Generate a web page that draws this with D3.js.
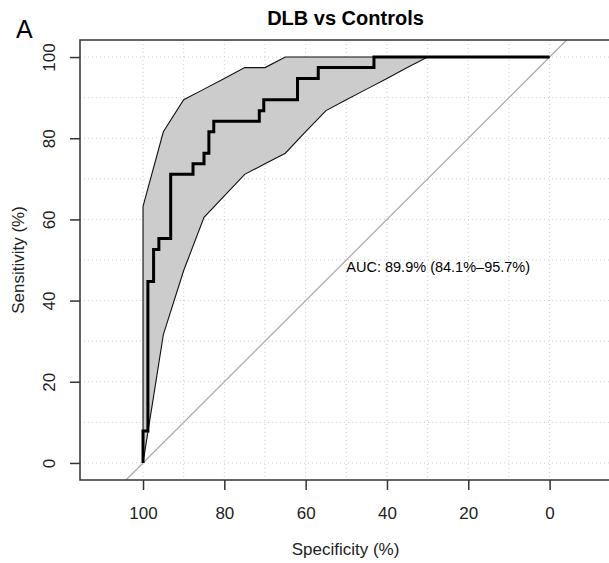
<!DOCTYPE html>
<html lang="en">
<head>
<meta charset="utf-8">
<title>DLB vs Controls</title>
<script src="https://d3js.org/d3.v7.min.js"></script>
<style>
  body { margin: 0; background: #fff; }
  #chart text { font-family: "Liberation Sans", Arial, sans-serif; }
</style>
</head>
<body>
<div id="chart"></div>
<script>
// empirical ROC curve, specificity / sensitivity in %
var rocSpec = [100, 100, 98.8, 98.8, 97.4, 97.4, 96.1, 96.1, 93.2, 93.2, 87.7, 87.7, 85.0, 85.0,
               83.8, 83.8, 82.6, 82.6, 71.4, 71.4, 70.3, 70.3, 62.0, 62.0, 56.9, 56.9, 43.2, 43.2, 0];
var rocSens = [0, 7.9, 7.9, 44.7, 44.7, 52.6, 52.6, 55.3, 55.3, 71.1, 71.1, 73.7, 73.7, 76.3,
               76.3, 81.6, 81.6, 84.2, 84.2, 86.8, 86.8, 89.5, 89.5, 94.7, 94.7, 97.4, 97.4, 100, 100];

// confidence band of the sensitivity at fixed specificities
var ciSpec  = [100, 95, 90, 85, 80, 75, 70, 65, 60, 55, 50, 45, 40, 35, 30, 25, 20, 15, 10, 5, 0];
var ciLower = [0, 31.6, 47.4, 60.5, 65.8, 71.1, 73.7, 76.3, 81.6, 86.8, 89.5, 92.1, 94.7, 97.4,
               100, 100, 100, 100, 100, 100, 100];
var ciUpper = [63.2, 81.6, 89.5, 92.1, 94.7, 97.4, 97.4, 100, 100, 100, 100, 100, 100, 100,
               100, 100, 100, 100, 100, 100, 100];

var xTicks = [100, 80, 60, 40, 20, 0];
var yTicks = [0, 20, 40, 60, 80, 100];
var gridLines = [0, 10, 20, 30, 40, 50, 60, 70, 80, 90, 100];
var aucText = "AUC: 89.9% (84.1%\u201395.7%)";

var W = 609, H = 563;
var box = {left: 80, top: 40, width: 531, height: 440};

var svg = d3.select("#chart").append("svg")
    .attr("width", W).attr("height", H);

// scales (x reversed like pROC, square aspect)
var x = d3.scaleLinear().domain([115.5, -15.1]).range([box.left, box.left + box.width]);
var y = d3.scaleLinear().domain([-4.2, 104.2]).range([box.top + box.height, box.top]);

var plot = svg.append("g");

// grid
plot.selectAll(".gv").data(gridLines).enter().append("line")
    .attr("x1", d => x(d)).attr("x2", d => x(d))
    .attr("y1", box.top).attr("y2", box.top + box.height)
    .attr("stroke", "#cfcfcf").attr("stroke-dasharray", "1,3");
plot.selectAll(".gh").data(gridLines).enter().append("line")
    .attr("x1", box.left).attr("x2", box.left + box.width)
    .attr("y1", d => y(d)).attr("y2", d => y(d))
    .attr("stroke", "#cfcfcf").attr("stroke-dasharray", "1,3");

// chance diagonal
plot.append("line")
    .attr("x1", x(104.2)).attr("y1", y(-4.2))
    .attr("x2", x(-4.2)).attr("y2", y(104.2))
    .attr("stroke", "#a9a9a9").attr("stroke-width", 1.2);

// CI band
var band = ciSpec.map((s, i) => ({s: s, lo: ciLower[i], hi: ciUpper[i]}));
plot.append("path")
    .datum(band)
    .attr("d", d3.area().x(d => x(d.s)).y0(d => y(d.lo)).y1(d => y(d.hi)))
    .attr("fill", "#cccccc").attr("stroke", "#111").attr("stroke-width", 1.1);

// ROC curve
var roc = rocSpec.map((s, i) => [s, rocSens[i]]);
plot.append("path")
    .datum(roc)
    .attr("d", d3.line().x(d => x(d[0])).y(d => y(d[1])))
    .attr("fill", "none").attr("stroke", "#000").attr("stroke-width", 3);

plot.append("text")
    .attr("x", x(50)).attr("y", y(50)).attr("dy", "0.8em")
    .attr("font-size", "14.5px").attr("fill", "#000")
    .text(aucText);

// box
svg.append("rect")
    .attr("x", box.left).attr("y", box.top)
    .attr("width", box.width).attr("height", box.height)
    .attr("fill", "none").attr("stroke", "#333").attr("stroke-width", 1.5);

// axes
var xAxis = svg.append("g")
    .attr("transform", "translate(0," + (box.top + box.height) + ")")
    .call(d3.axisBottom(x).tickValues(xTicks).tickSize(10).tickPadding(17));
var yAxis = svg.append("g")
    .attr("transform", "translate(" + box.left + ",0)")
    .call(d3.axisLeft(y).tickValues(yTicks).tickSize(10));
[xAxis, yAxis].forEach(function(a) {
  a.select(".domain").remove();
  a.selectAll("line").attr("stroke", "#333").attr("stroke-width", 1.5);
  a.selectAll("text").attr("font-size", "17px").attr("fill", "#222");
});
yAxis.selectAll("text")
    .attr("x", 0).attr("dy", 0)
    .attr("text-anchor", "middle")
    .attr("transform", "translate(-25,0) rotate(-90)");

// titles
svg.append("text")
    .attr("x", box.left + box.width / 2).attr("y", 25)
    .attr("text-anchor", "middle").attr("font-size", "20px").attr("font-weight", "bold")
    .text("DLB vs Controls");
svg.append("text")
    .attr("x", box.left + box.width / 2).attr("y", 555)
    .attr("text-anchor", "middle").attr("font-size", "17px").attr("fill", "#222")
    .text("Specificity (%)");
svg.append("text")
    .attr("transform", "translate(24," + (box.top + box.height / 2) + ") rotate(-90)")
    .attr("text-anchor", "middle").attr("font-size", "17px").attr("fill", "#222")
    .text("Sensitivity (%)");
svg.append("text")
    .attr("x", 16).attr("y", 38)
    .attr("font-size", "25px")
    .text("A");
</script>
</body>
</html>
